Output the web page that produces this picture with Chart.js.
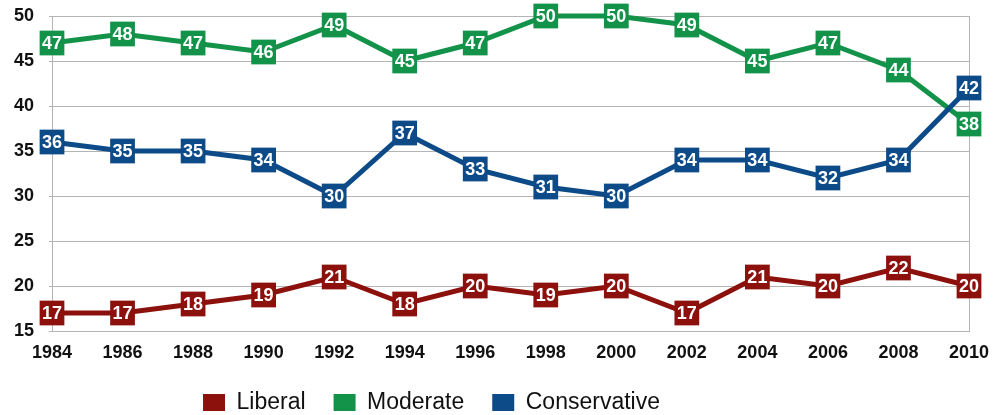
<!DOCTYPE html>
<html>
<head>
<meta charset="utf-8">
<script src="https://cdn.jsdelivr.net/npm/chart.js@4/dist/chart.umd.min.js"></script>
<style>
  html, body { margin: 0; padding: 0; background: #ffffff; }
  #wrap { width: 993px; height: 415px; position: relative; }
</style>
</head>
<body>
<div id="wrap"><canvas id="c" width="993" height="415"></canvas></div>
<script>
const years = ['1984','1986','1988','1990','1992','1994','1996','1998','2000','2002','2004','2006','2008','2010'];
const liberal = [17,17,18,19,21,18,20,19,20,17,21,20,22,20];
const moderate = [47,48,47,46,49,45,47,50,50,49,45,47,44,38];
const conservative = [36,35,35,34,30,37,33,31,30,34,34,32,34,42];
const yTicks = [15,20,25,30,35,40,45,50];

const RED = '#8c100c';
const GREEN = '#13924a';
const BLUE = '#0d4a88';
const GRID = '#b4b4b4';
const FONT = "'Liberation Sans', Arial, Helvetica, sans-serif";

const valueLabels = {
  id: 'valueLabels',
  afterDatasetsDraw(chart) {
    const ctx = chart.ctx;
    ctx.save();
    ctx.font = 'bold 18px ' + FONT;
    ctx.fillStyle = '#ffffff';
    ctx.textAlign = 'center';
    ctx.textBaseline = 'middle';
    chart.data.datasets.forEach((ds, i) => {
      const meta = chart.getDatasetMeta(i);
      meta.data.forEach((pt, j) => {
        ctx.fillText(String(ds.data[j]), pt.x, pt.y + 1);
      });
    });
    ctx.restore();
  }
};

const legendShift = {
  id: 'legendShift',
  afterLayout(chart) {
    const lg = chart.legend;
    const dx = -53, dy = -2;
    lg.left += dx; lg.right += dx;
    lg.top += dy; lg.bottom += dy;
  }
};

function zeroPad(scale) {
  scale.paddingTop = 0; scale.paddingBottom = 0;
  scale.paddingLeft = 0; scale.paddingRight = 0;
}

function ds(label, data, color, order) {
  return {
    label, data, order,
    borderColor: color,
    backgroundColor: color,
    borderWidth: 5,
    pointStyle: 'rect',
    pointRadius: 17.5,
    pointHoverRadius: 17.5,
    pointBorderWidth: 0,
    pointBackgroundColor: color,
    tension: 0,
    clip: false
  };
}

new Chart(document.getElementById('c'), {
  type: 'line',
  data: {
    labels: years,
    datasets: [
      ds('Liberal', liberal, RED, 2),
      ds('Moderate', moderate, GREEN, 1),
      ds('Conservative', conservative, BLUE, 0)
    ]
  },
  options: {
    responsive: false,
    animation: false,
    layout: { autoPadding: false, padding: { left: 0, right: 24, top: 16, bottom: -11 } },
    plugins: {
      tooltip: { enabled: false },
      legend: {
        position: 'bottom',
        labels: {
          usePointStyle: true,
          pointStyle: 'rect',
          pointStyleWidth: 22,
          boxHeight: 17,
          padding: 28,
          color: '#111',
          font: { family: FONT, size: 23 },
          sort: (a, b) => a.datasetIndex - b.datasetIndex
        }
      }
    },
    scales: {
      x: {
        offset: false,
        grid: {
          drawTicks: false,
          color: (c) => (c.index === 0 || c.index === years.length - 1) ? GRID : 'rgba(0,0,0,0)',
          lineWidth: 1
        },
        border: { display: true, color: GRID },
        ticks: {
          padding: 11,
          color: '#111',
          maxRotation: 0,
          autoSkip: false,
          font: { family: FONT, size: 18, weight: 'bold' }
        },
        afterFit(scale) { scale.height = 34; zeroPad(scale); }
      },
      y: {
        min: 15, max: 50,
        afterBuildTicks(scale) { scale.ticks = yTicks.map(v => ({ value: v })); },
        grid: { color: GRID, lineWidth: 1, tickLength: 3 },
        border: { display: true, color: GRID },
        ticks: {
          padding: 15,
          color: '#111',
          font: { family: FONT, size: 18, weight: 'bold' }
        },
        afterFit(scale) { scale.width = 52; zeroPad(scale); }
      }
    }
  },
  plugins: [valueLabels, legendShift]
});
</script>
</body>
</html>
